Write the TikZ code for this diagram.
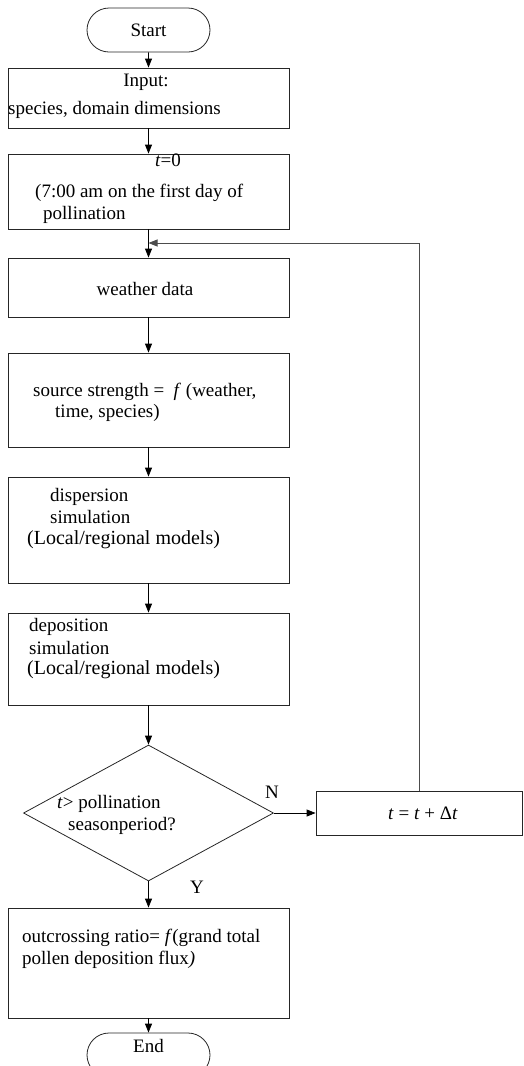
\documentclass[tikz,border=0pt]{standalone}
\usepackage{fontspec}
\setmainfont{Liberation Serif}
\usetikzlibrary{shapes.geometric,shapes.misc,arrows.meta}

\begin{document}
\begin{tikzpicture}[x=1pt,y=-1pt,%one unit = one pixel of the layout
  box/.style={draw=black!85, line width=0.8pt, rectangle, inner sep=0pt, minimum width=281pt},
  term/.style={draw=black!85, line width=0.8pt, rounded rectangle, minimum width=123pt, minimum height=44pt, inner sep=0pt, font=\fontsize{19}{22}\selectfont},
  txt/.style={inner sep=0pt, font=\fontsize{19}{22}\selectfont},
  bigtxt/.style={inner sep=0pt, font=\fontsize{20}{23}\selectfont},
  flow/.style={draw=black, line width=0.8pt, -{Triangle[length=9pt,width=7pt]}}]
\useasboundingbox (0,0) rectangle (523,1066);

% shapes of the chart
\node [term] (start) at (148.5,30) {Start};
\node [box, minimum height=60pt] (input) at (148.5,98) {};
\node [box, minimum height=75pt] (tzero) at (148.5,191.5) {};
\node [box, minimum height=59pt] (weather) at (148.5,287.5) {};
\node [box, minimum height=94pt] (source) at (148.5,400) {};
\node [box, minimum height=106pt] (disp) at (148.5,530) {};
\node [box, minimum height=92pt] (depo) at (148.5,659) {};
\node [draw=black!85, line width=0.8pt, diamond, minimum width=250pt, minimum height=136pt, inner sep=0pt] (check) at (148.5,813) {};
\node [box, minimum width=206pt, minimum height=44pt] (incr) at (419,813) {};
\node [box, minimum height=110pt] (output) at (148.5,963) {};
\node [term] (end) at (148.5,1055) {};
\coordinate (loopin) at (148.5,243);

% texts
\node [txt] (inputA) at (146,82) {Input:};
\node [txt, anchor=west] (inputB) at (8,110) {species, domain dimensions};
\node [txt] (tzeroA) at (168,160) {\textit{t}=0};
\node [txt, anchor=west] (tzeroB) at (35,193) {(7:00 am on the first day of};
\node [txt, anchor=west] (tzeroC) at (43,215) {pollination};
\node [txt] (weatherA) at (145,289) {weather data};
\node [txt, anchor=west] (sourceA) at (33,392) {source strength = \ \textit{f} (weather,};
\node [txt, anchor=west] (sourceB) at (55,413) {time, species)};
\node [txt, anchor=west] (dispA) at (50,497) {dispersion};
\node [txt, anchor=west] (dispB) at (50,517) {simulation};
\node [bigtxt, anchor=west] (dispC) at (27,540) {(Local/regional models)};
\node [txt, anchor=west] (depoA) at (29,627) {deposition};
\node [txt, anchor=west] (depoB) at (29,648) {simulation};
\node [bigtxt, anchor=west] (depoC) at (27,670) {(Local/regional models)};
\node [txt, anchor=west] (checkA) at (57,804) {\textit{t}> pollination};
\node [txt, anchor=west] (checkB) at (68,826) {seasonperiod?};
\node [txt] (incrA) at (423,813) {\textit{t} = \textit{t} + Δ\textit{t}};
\node [txt, anchor=west] (outputA) at (22,938) {outcrossing ratio= \textit{f}(grand total};
\node [txt, anchor=west] (outputB) at (22,960) {pollen deposition flux\textit{)}};
\node [txt] (endA) at (148.5,1046) {End};
\node [txt] (no) at (272,792) {N};
\node [txt] (yes) at (197,887) {Y};

% connectors
\draw [flow] (start) -- (input);
\draw [flow] (input) -- (tzero);
\draw [flow] (tzero) -- (weather);
\draw [flow] (weather) -- (source);
\draw [flow] (source) -- (disp);
\draw [flow] (disp) -- (depo);
\draw [flow] (depo) -- (check);
\draw [flow] (check) -- (incr);
\draw [flow] (check) -- (output);
\draw [flow] (output) -- (end);
\draw [flow, draw=black!70] (incr.north) |- (loopin);
\end{tikzpicture}
\end{document}
